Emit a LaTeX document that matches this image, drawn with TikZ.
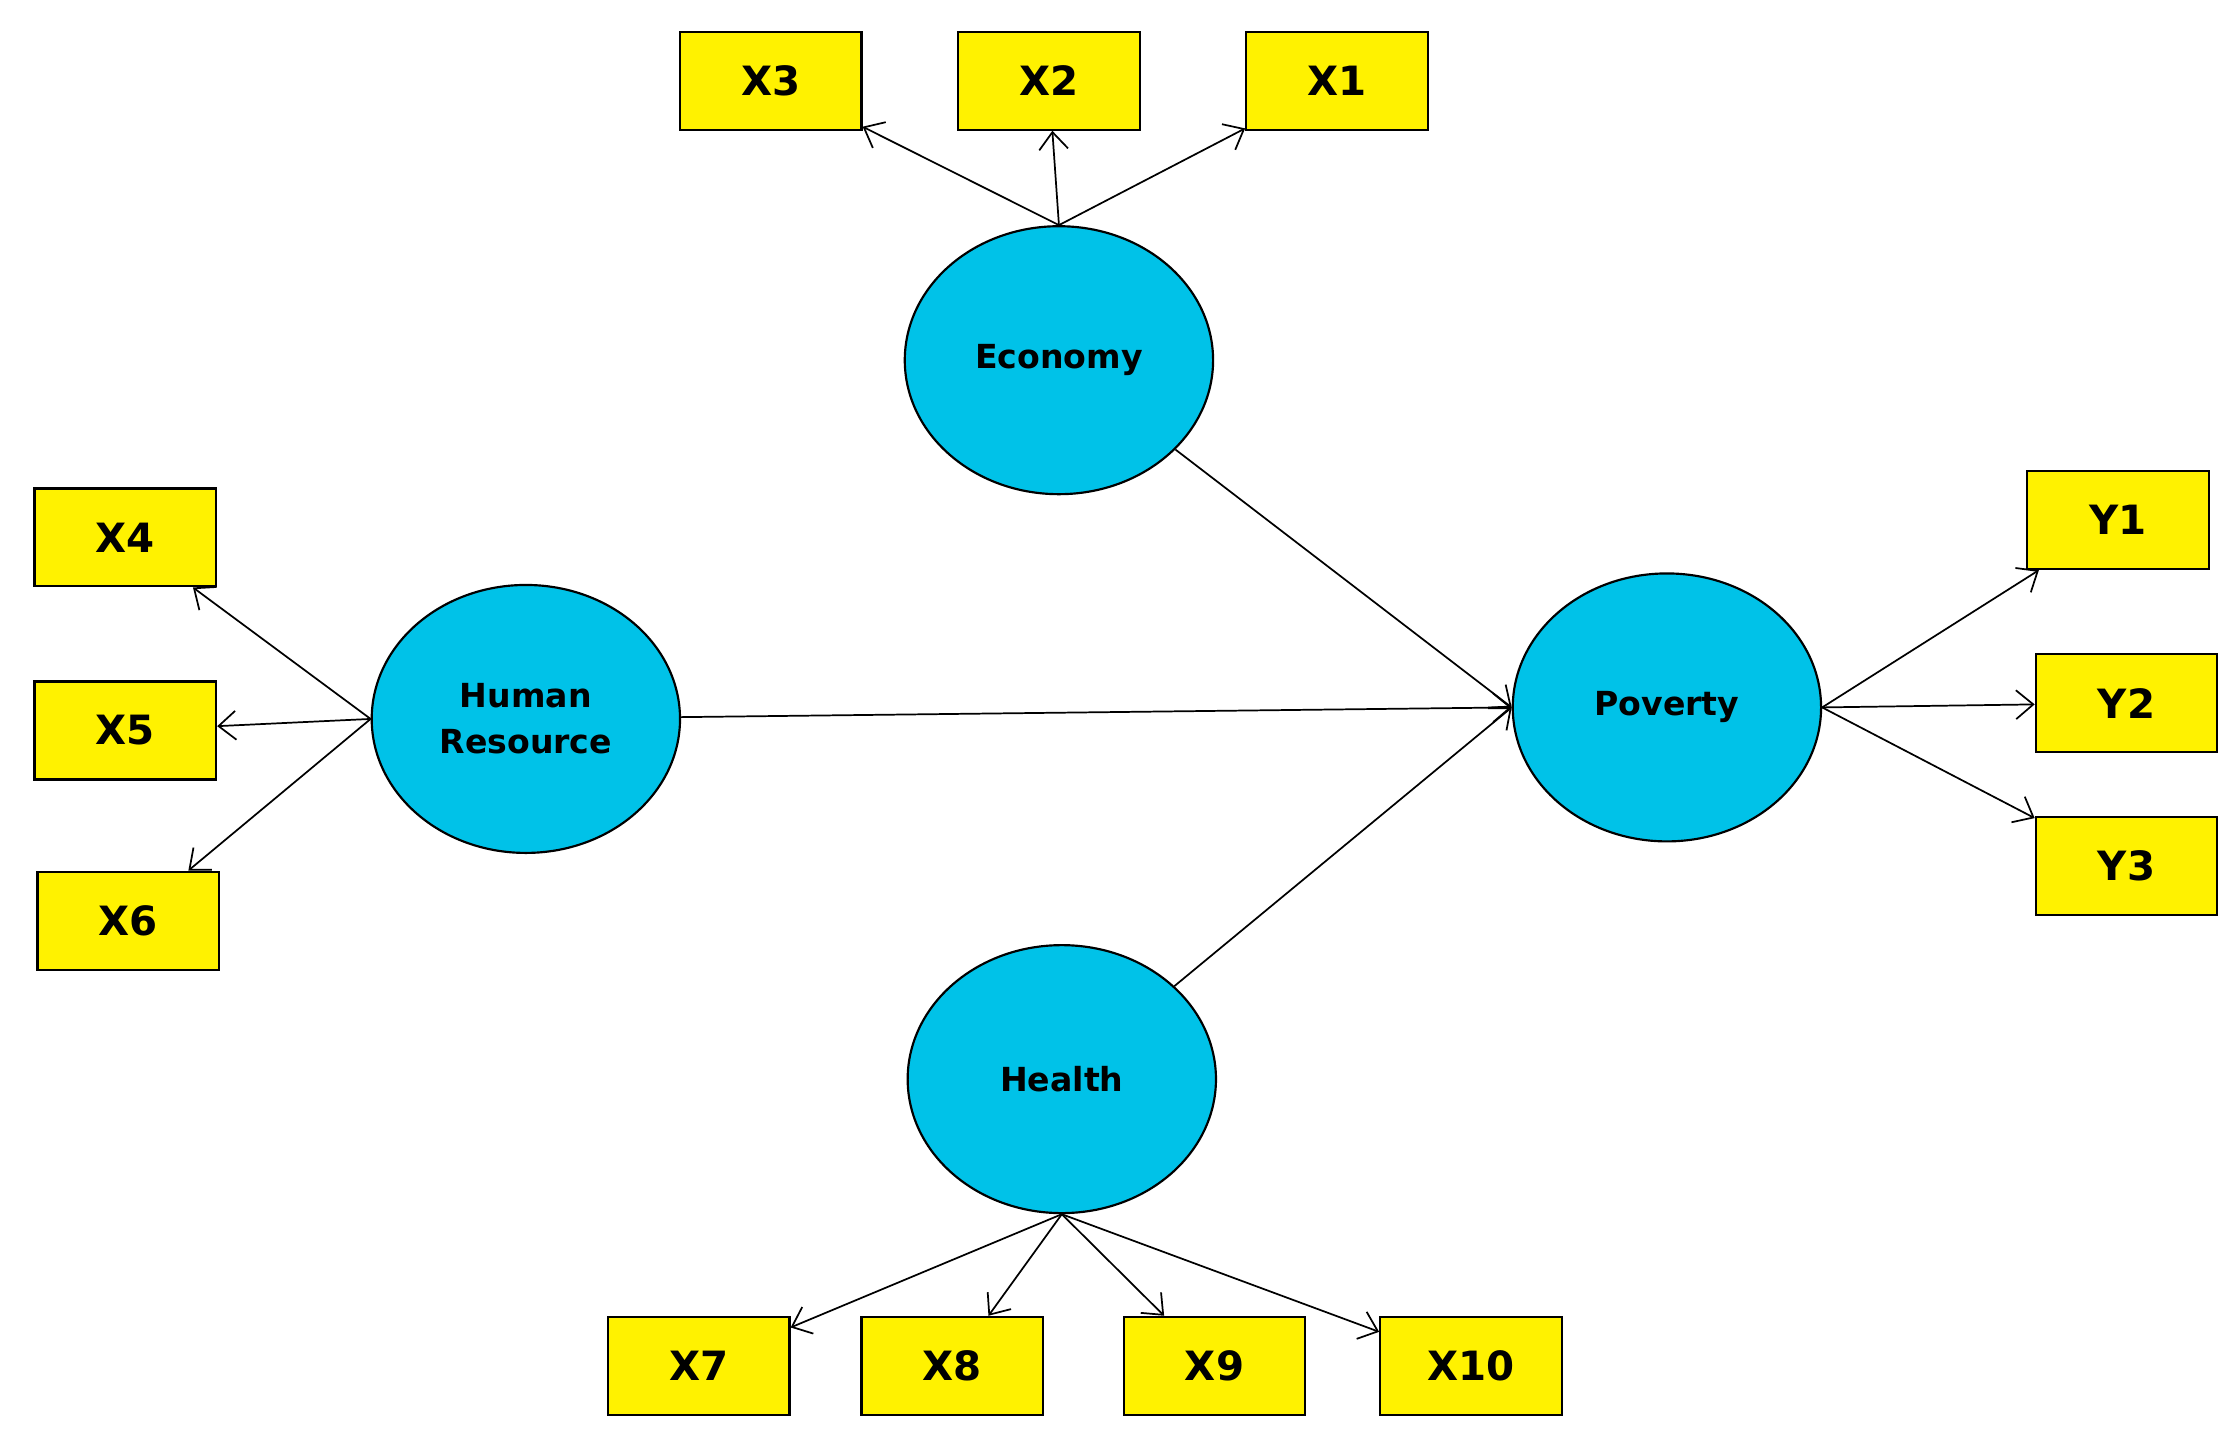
\documentclass[tikz,border=0pt]{standalone}
\usepackage{fontspec}
\setmainfont{DejaVu Sans}
\usetikzlibrary{arrows.meta}
\tikzset{every picture/.style={line width=0.75pt}}
\tikzset{
  ind/.style={draw, fill=yellow, minimum width=63pt, minimum height=34pt, inner sep=0pt, font=\bfseries\fontsize{14}{16}\selectfont},
  lat/.style={draw, fill=cyan!75!blue!60, ellipse, minimum width=107pt, minimum height=93pt, inner sep=0pt, align=center, font=\bfseries\fontsize{11.5}{16}\selectfont},
  lnk/.style={-{Straight Barb[length=6pt,width=10pt]}, line width=0.6pt}
}
\definecolor{latcol}{RGB}{0,194,232}
\usetikzlibrary{shapes.geometric}
\begin{document}
\begin{tikzpicture}[x=0.5pt,y=0.5pt,yscale=-1,xscale=1]
  \useasboundingbox (0,0) rectangle (1552,993);

  %Latent variables
  \node [lat, fill=latcol] (eco) at (735,250) {Economy};
  \node [lat, fill=latcol] (hr) at (365,499) {Human\\Resource};
  \node [lat, fill=latcol] (pov) at (1157,491) {Poverty};
  \node [lat, fill=latcol] (hea) at (737,749) {Health};

  %Indicators
  \node [ind] (x3) at (535,56) {X3};
  \node [ind] (x2) at (728,56) {X2};
  \node [ind] (x1) at (928,56) {X1};
  \node [ind] (x4) at (87,373) {X4};
  \node [ind] (x5) at (87,507) {X5};
  \node [ind] (x6) at (89,639) {X6};
  \node [ind] (y1) at (1470,361) {Y1};
  \node [ind] (y2) at (1476,488) {Y2};
  \node [ind] (y3) at (1476,601) {Y3};
  \node [ind] (x7) at (485,948) {X7};
  \node [ind] (x8) at (661,948) {X8};
  \node [ind] (x9) at (843,948) {X9};
  \node [ind] (x10) at (1021,948) {X10};

  %Loadings
  \foreach \t in {x3,x2,x1} \draw [lnk] (eco.north) -- (\t);
  \foreach \t in {x4,x5,x6} \draw [lnk] (hr.west) -- (\t);
  \foreach \t in {y1,y2,y3} \draw [lnk] (pov.east) -- (\t);
  \foreach \t in {x7,x8,x9,x10} \draw [lnk] (hea.south) -- (\t);

  %Paths
  \foreach \s in {eco,hr,hea} \draw [lnk] (\s) -- (pov.west);
\end{tikzpicture}
\end{document}
